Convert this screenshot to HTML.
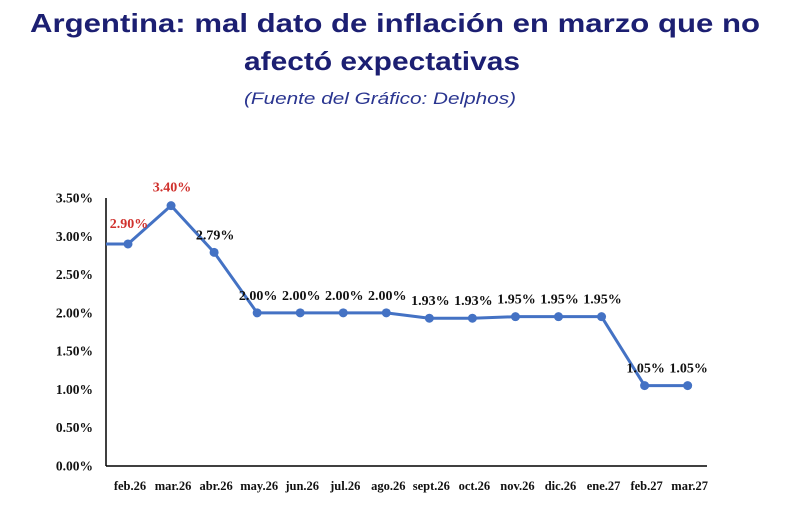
<!DOCTYPE html>
<html><head><meta charset="utf-8"><style>
html,body{margin:0;padding:0;background:#fff;width:800px;height:528px;overflow:hidden}
svg{display:block}
</style></head><body>
<svg id="chart" width="800" height="528" xmlns="http://www.w3.org/2000/svg">
<text x="395" y="32" text-anchor="middle" textLength="730" lengthAdjust="spacingAndGlyphs" font-family="Liberation Sans, sans-serif" font-weight="bold" font-size="26" fill="#1c1f72">Argentina: mal dato de inflación en marzo que no</text>
<text x="382" y="70" text-anchor="middle" textLength="276" lengthAdjust="spacingAndGlyphs" font-family="Liberation Sans, sans-serif" font-weight="bold" font-size="26" fill="#1c1f72">afectó expectativas</text>
<text x="380" y="104" text-anchor="middle" textLength="272" lengthAdjust="spacingAndGlyphs" font-family="Liberation Sans, sans-serif" font-style="italic" font-size="17" fill="#2a3590">(Fuente del Gráfico: Delphos)</text>
<g id="plot"></g>
</svg>
<script>
const categories = ["feb.26","mar.26","abr.26","may.26","jun.26","jul.26","ago.26","sept.26","oct.26","nov.26","dic.26","ene.27","feb.27","mar.27"];
const values = [2.90,3.40,2.79,2.00,2.00,2.00,2.00,1.93,1.93,1.95,1.95,1.95,1.05,1.05];
const labels = ["2.90%","3.40%","2.79%","2.00%","2.00%","2.00%","2.00%","1.93%","1.93%","1.95%","1.95%","1.95%","1.05%","1.05%"];
const yTicks = [0,0.5,1,1.5,2,2.5,3,3.5];
const yTickLabels = ["0.00%","0.50%","1.00%","1.50%","2.00%","2.50%","3.00%","3.50%"];
const startValue = 2.90;

const NS = "http://www.w3.org/2000/svg";
const g = document.getElementById("plot");
const x0 = 106, x1 = 707, yBase = 466, yTop = 198;
const xScale = i => 128 + i * 43.05;
const yScale = v => yBase - (v / 3.5) * (yBase - yTop);
function mk(tag, attrs, text){
  const e = document.createElementNS(NS, tag);
  for (const k in attrs) e.setAttribute(k, attrs[k]);
  if (text !== undefined) e.textContent = text;
  g.appendChild(e);
  return e;
}
const serif = "Liberation Serif, serif";
let e = mk("line", {x1:x0, y1:yTop, x2:x0, y2:yBase, stroke:"#000", "stroke-width":1.5});


e = mk("line", {x1:x0, y1:yBase, x2:x1, y2:yBase, stroke:"#000", "stroke-width":1.5});


yTicks.forEach((t, i) => {
  const el = mk("text", {x:93, y:yScale(t)+4.5, "text-anchor":"end", "font-family":serif, "font-weight":"bold", "font-size":13.5, fill:"#111"}, yTickLabels[i]);
  
  
});
categories.forEach((c, i) => {
  const el = mk("text", {x:xScale(i)+2, y:yBase+24, "text-anchor":"middle", "font-family":serif, "font-weight":"bold", "font-size":12.5, fill:"#111"}, c);
  
  
});
let d = "M" + x0 + "," + yScale(startValue);
values.forEach((v, i) => { d += " L" + xScale(i) + "," + yScale(v); });
e = mk("path", {d:d, fill:"none", stroke:"#4472c4", "stroke-width":3, "stroke-linejoin":"round"});


values.forEach((v, i) => {
  const c = mk("circle", {cx:xScale(i), cy:yScale(v), r:4.5, fill:"#4472c4"});
  
  
  let dx = 0, dy = -13;
  if (i === 0) { dy = -16; }
  if (i === 1) { dy = -14; }
  const t = mk("text", {x:xScale(i)+dx+1, y:yScale(v)+dy, "text-anchor":"middle", "font-family":serif, "font-weight":"bold", "font-size":14, fill: i < 2 ? "#d0312d" : "#111"}, labels[i]);
  
  
});
</script>
</body></html>
